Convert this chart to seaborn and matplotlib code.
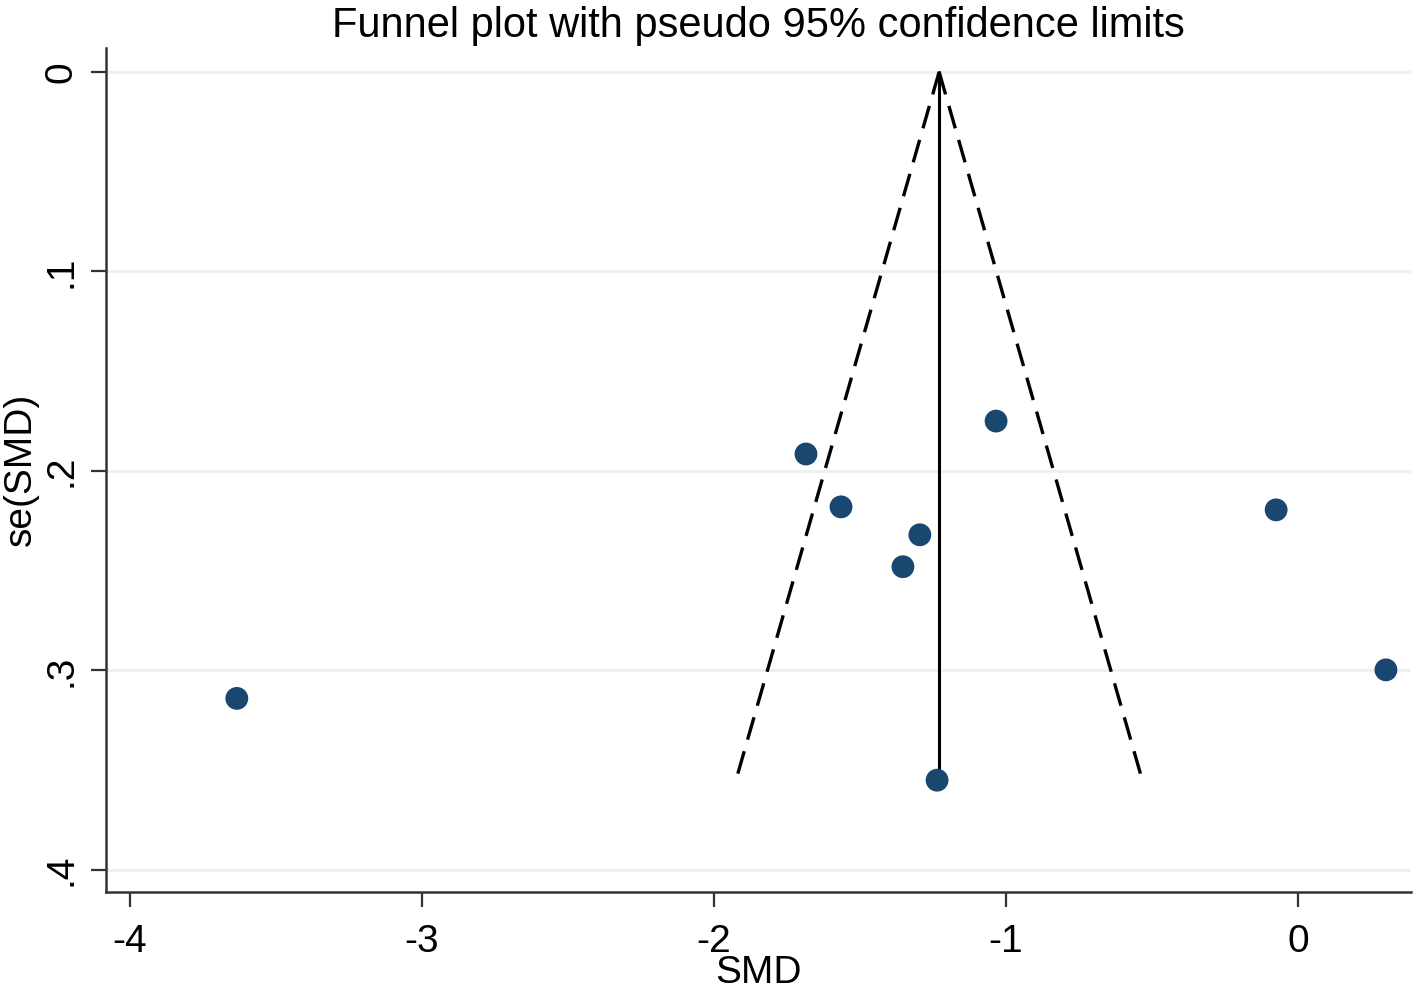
import matplotlib
matplotlib.use("Agg")
import matplotlib.pyplot as plt
import seaborn as sns
import pandas as pd

# study estimates
smd = [-3.634, -1.685, -1.565, -1.295, -1.353, -1.034, -1.236, -0.075, 0.301]
se_smd = [0.314, 0.1915, 0.218, 0.232, 0.248, 0.175, 0.355, 0.2195, 0.2997]

# pooled estimate and funnel extent
pooled = -1.229
funnel_se = [0.0, 0.355]

y_ticks = [0, 0.1, 0.2, 0.3, 0.4]
y_labels = ["0", ".1", ".2", ".3", ".4"]
x_ticks = [-4, -3, -2, -1, 0]
x_labels = ["-4", "-3", "-2", "-1", "0"]

sns.set_style("white")
plt.rcParams['font.family'] = ['Liberation Sans', 'DejaVu Sans']
plt.rcParams['text.color'] = 'black'
plt.rcParams['axes.labelcolor'] = 'black'
plt.rcParams['xtick.color'] = 'black'
plt.rcParams['ytick.color'] = 'black'

df = pd.DataFrame({"SMD": smd, "se": se_smd})

fig = plt.figure(figsize=(14.17, 9.92), dpi=100)
ax = fig.add_axes([0.0748, 0.1011, 0.921, 0.8505])

navy = "#1a476f"
grid_c = "#eaf2f3"

for yt in y_ticks:
    ax.axhline(yt, color=grid_c, lw=2.2, zorder=0)

# funnel limits
lo = [pooled - 1.96 * s for s in funnel_se]
hi = [pooled + 1.96 * s for s in funnel_se]
ax.plot(lo, funnel_se, color="black", lw=2.4, ls=(0, (7, 3.6)), zorder=2)
ax.plot(hi, funnel_se, color="black", lw=2.4, ls=(0, (7, 3.6)), zorder=2)
ax.plot([pooled, pooled], funnel_se, color="black", lw=2.2, zorder=2)

sns.scatterplot(data=df, x="SMD", y="se", color=navy, s=270, edgecolor="none",
                ax=ax, zorder=3, legend=False)

ax.set_xlim(-4.082, 0.387)
ax.set_ylim(0.4109, -0.012)

ax.set_xticks(x_ticks)
ax.set_xticklabels(x_labels)
ax.set_yticks(y_ticks)
ax.set_yticklabels(y_labels, rotation=90, va="center")

ax.tick_params(axis="both", direction="out", length=11, width=1.6,
               bottom=True, left=True, labelsize=28, color="#333333")
ax.tick_params(axis="x", pad=12)
ax.tick_params(axis="y", pad=8)

for side in ["top", "right"]:
    ax.spines[side].set_visible(False)
for side in ["left", "bottom"]:
    ax.spines[side].set_color("#333333")
    ax.spines[side].set_linewidth(1.8)

ax.set_xlabel("SMD", fontsize=28, labelpad=-3)
ax.set_ylabel("se(SMD)", fontsize=28, labelpad=3)
ax.set_title("Funnel plot with pseudo 95% confidence limits", fontsize=30, pad=8)

fig.savefig("out.png", dpi=100)
plt.close(fig)
